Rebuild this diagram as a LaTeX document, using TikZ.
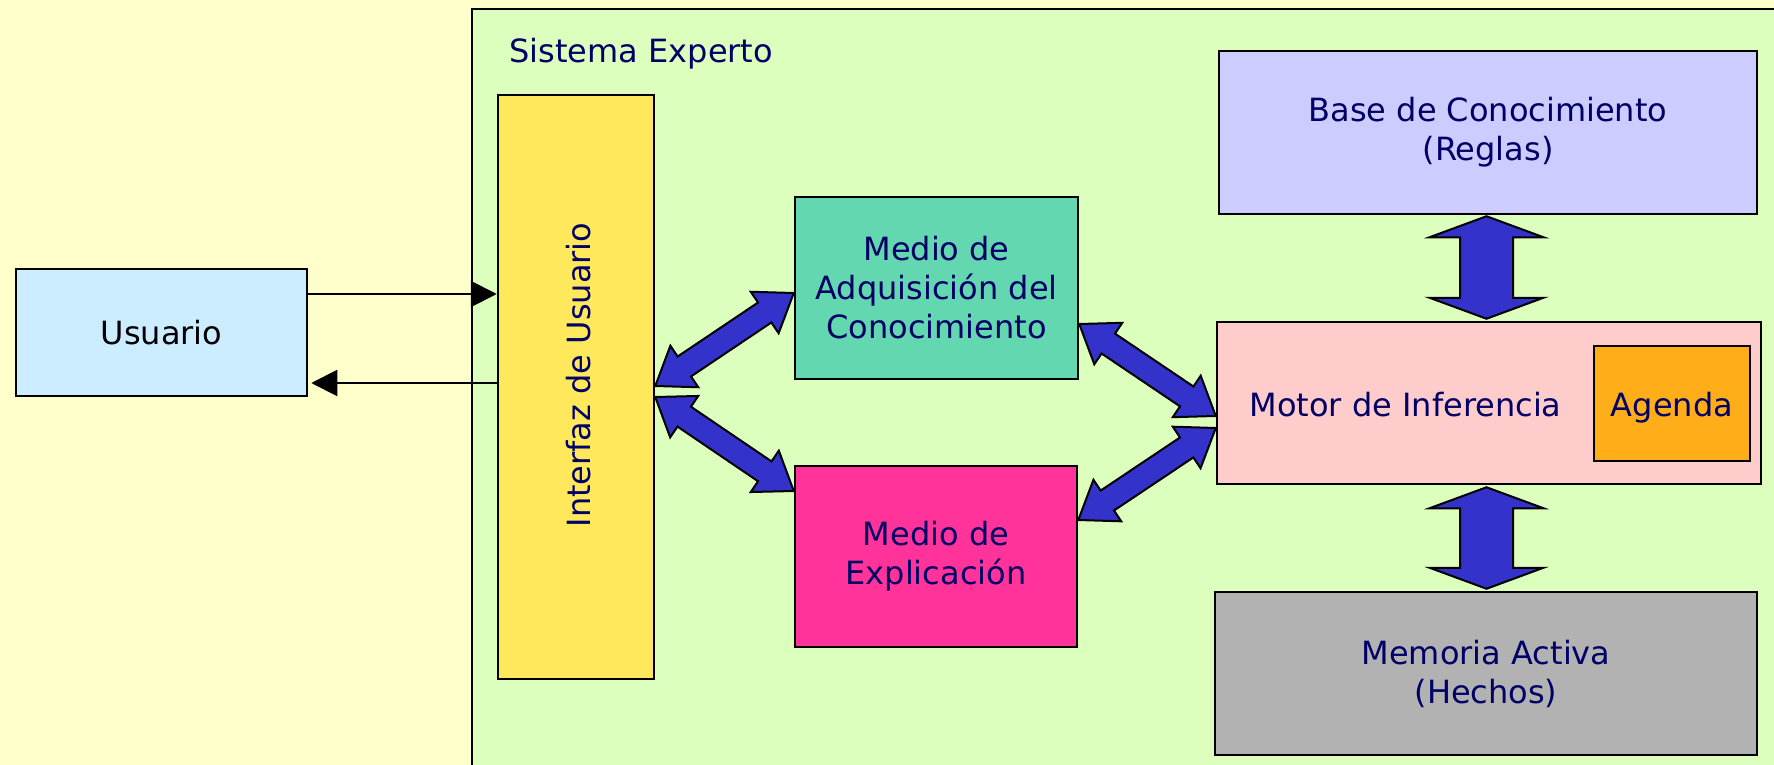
\documentclass[tikz,border=0pt]{standalone}
\usepackage{fontspec}
\setmainfont{DejaVu Sans}
\usetikzlibrary{calc,arrows.meta}
\definecolor{fondo}{RGB}{255,255,204}
\definecolor{sistemacol}{RGB}{221,255,190}
\definecolor{usuariocol}{RGB}{204,236,255}
\definecolor{interfazcol}{RGB}{255,232,92}
\definecolor{adqcol}{RGB}{99,215,175}
\definecolor{explcol}{RGB}{255,51,153}
\definecolor{basecol}{RGB}{204,204,255}
\definecolor{motorcol}{RGB}{255,204,204}
\definecolor{agendacol}{RGB}{255,173,25}
\definecolor{memoriacol}{RGB}{178,178,178}
\definecolor{flechacol}{RGB}{51,51,204}
\definecolor{textocol}{RGB}{0,0,102}

% fat double arrow: #1 tip, #2 tip, #3 head length, #4 half head width, #5 half shaft width
\newcommand{\fatarrow}[5]{%
  \coordinate (fa1) at ($(#1)!#3!(#2)$);
  \coordinate (fa2) at ($(#2)!#3!(#1)$);
  \filldraw[flecha] (#1) -- ($(fa1)!#4!90:(#2)$) -- ($(fa1)!#5!90:(#2)$)
    -- ($(fa2)!#5!-90:(#1)$) -- ($(fa2)!#4!-90:(#1)$) -- (#2)
    -- ($(fa2)!#4!90:(#1)$) -- ($(fa2)!#5!90:(#1)$)
    -- ($(fa1)!#5!-90:(#2)$) -- ($(fa1)!#4!-90:(#2)$) -- cycle;
}

\begin{document}
\begin{tikzpicture}[x=1pt,y=-1pt,
    every node/.style={font=\fontsize{32}{39}\selectfont},
    caja/.style={draw, line width=2.5pt, inner sep=0pt, align=center, text=textocol},
    flecha/.style={fill=flechacol, draw=black, line width=2pt, line join=miter},
    fina/.style={line width=2pt, -{Triangle[length=26pt,width=26pt]}}]
    % background and expert system area
    \useasboundingbox (0,0) rectangle (1774,765);
    \fill[fondo] (0,0) rectangle (1774,765);
    \filldraw[fill=sistemacol, line width=2.5pt] (472,9) rectangle (1800,800);
    \node[anchor=base west, text=textocol] (sistema) at (506,63) {Sistema Experto};

    % boxes
    \node[caja, fill=usuariocol, text=black, minimum width=291pt, minimum height=127pt] (usuario) at (161.5,332.5) {Usuario};
    \node[caja, fill=interfazcol, minimum width=156pt, minimum height=584pt] (interfaz) at (576,387) {};
    \node[rotate=90, anchor=base, text=textocol] (interfaztxt) at (590,375) {Interfaz de Usuario};
    \node[caja, fill=adqcol, minimum width=283pt, minimum height=182pt] (adq) at (936.5,288) {Medio de\\Adquisición del\\Conocimiento};
    \node[caja, fill=explcol, minimum width=282pt, minimum height=181pt] (expl) at (936,556.5) {Medio de\\Explicación};
    \node[caja, fill=basecol, minimum width=538pt, minimum height=163pt] (base) at (1488,132.5) {Base de Conocimiento\\(Reglas)};
    \node[caja, fill=motorcol, minimum width=544pt, minimum height=162pt] (motor) at (1489,403) {};
    \node[anchor=base west, text=textocol] (motortxt) at (1246,416) {Motor de Inferencia};
    \node[caja, fill=agendacol, minimum width=156pt, minimum height=115pt] (agenda) at (1672,403.5) {};
    \node[anchor=base, text=textocol] (agendatxt) at (1672,416) {Agenda};
    \node[caja, fill=memoriacol, minimum width=542pt, minimum height=163pt] (memoria) at (1486,673.5) {Memoria Activa\\(Hechos)};

    % user arrows
    \coordinate (ua) at ([yshift=38.5pt]usuario.east);
    \coordinate (ub) at ([yshift=-50.5pt]usuario.east);
    \draw[fina] (ua) -- (ua -| interfaz.west);
    \draw[fina] ([xshift=2pt]ub -| interfaz.west) -- ([xshift=3pt]ub);

    % diagonal fat arrows
    \coordinate (i1) at ([yshift=1pt]interfaz.east);
    \coordinate (i2) at ([yshift=-10pt]interfaz.east);
    \coordinate (a1) at ([yshift=-5pt]adq.west);
    \coordinate (a2) at ([yshift=-36pt]adq.east);
    \coordinate (e1) at ([yshift=65.5pt]expl.west);
    \coordinate (e2) at ([yshift=36.5pt]expl.east);
    \coordinate (m1) at ([yshift=-13pt]motor.west);
    \coordinate (m2) at ([yshift=-25pt]motor.west);
    \fatarrow{i1}{a1}{35pt}{25pt}{12pt}
    \fatarrow{i2}{e1}{35pt}{25pt}{12pt}
    \fatarrow{a2}{m1}{35pt}{25pt}{12pt}
    \fatarrow{e2}{m2}{35pt}{25pt}{12pt}

    % vertical fat arrows
    \coordinate (vx) at (1486.5,0);
    \coordinate (b1) at ([yshift=-1pt]base.south -| vx);
    \coordinate (b2) at ([yshift=2pt]motor.north -| vx);
    \coordinate (b3) at ([yshift=-2pt]motor.south -| vx);
    \coordinate (b4) at ([yshift=2pt]memoria.north -| vx);
    \fatarrow{b1}{b2}{21pt}{57pt}{26.5pt}
    \fatarrow{b3}{b4}{21pt}{57pt}{26.5pt}
\end{tikzpicture}
\end{document}
